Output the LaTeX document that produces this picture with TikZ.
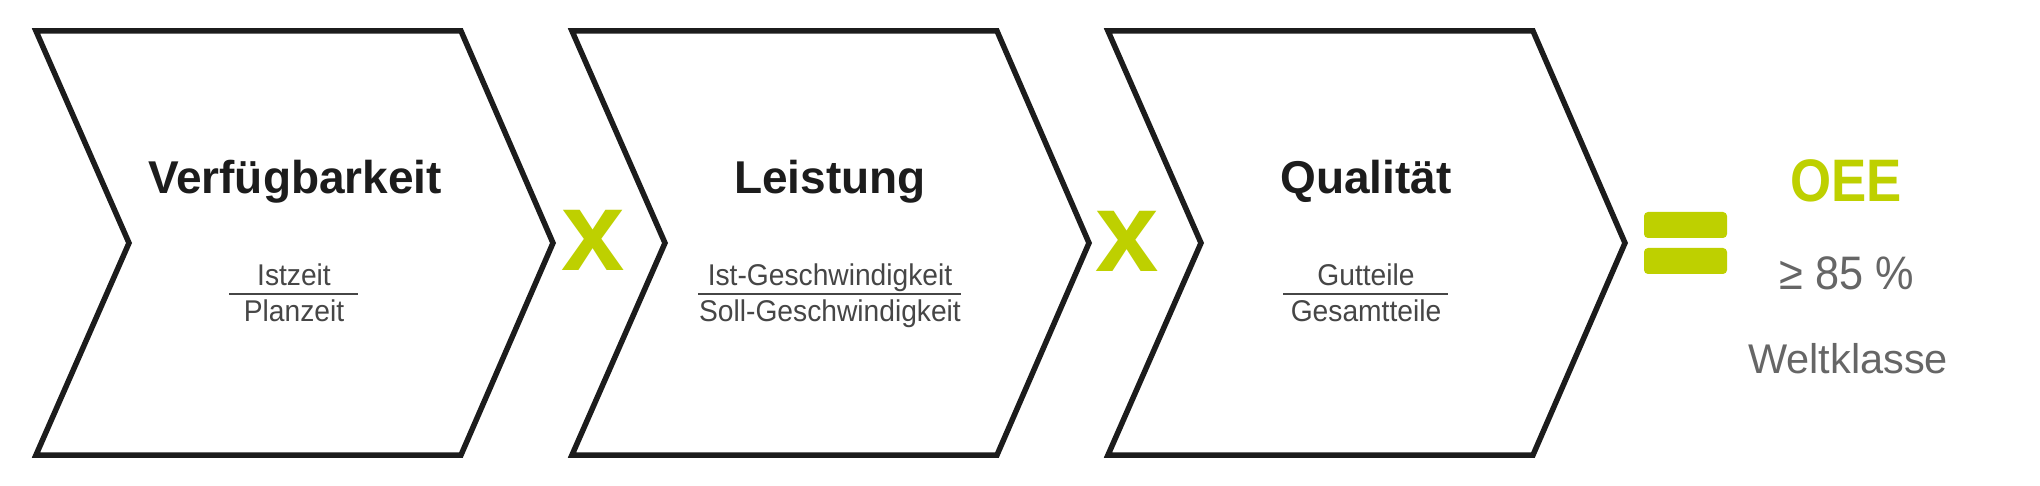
\documentclass[tikz,border=0pt]{standalone}
\usepackage{fontspec}
\setmainfont{Liberation Sans}
\newfontfamily\narrowfont[FakeStretch=0.94]{Liberation Sans}
\newfontfamily\oeefont[FakeStretch=0.88]{Liberation Sans}
\newfontfamily\pctfont[FakeStretch=0.92]{Liberation Sans}
\definecolor{lime}{RGB}{190,208,0}
\definecolor{ink}{RGB}{28,28,28}
\definecolor{subgray}{RGB}{70,70,70}
\definecolor{oeegray}{RGB}{102,102,102}
\tikzset{
  chev/.style={draw=ink, line width=5.5pt, line join=miter, fill=white},
  title/.style={anchor=base, inner sep=0pt, text=ink, font=\fontsize{46}{50}\selectfont\bfseries},
  frac/.style={anchor=base, inner sep=0pt, text=subgray, font=\narrowfont\fontsize{30}{34}\selectfont},
  fracline/.style={draw=subgray, line width=2.6pt},
  times/.style={anchor=base, inner sep=0pt, text=lime, font=\fontsize{114}{120}\selectfont\bfseries},
  eqbar/.style={fill=lime, rounded corners=4pt},
  oee/.style={anchor=base, inner sep=0pt, text=lime, font=\oeefont\fontsize{60}{64}\selectfont\bfseries},
  oeesub/.style={anchor=base, inner sep=0pt, text=oeegray},
}
\begin{document}
\begin{tikzpicture}[x=1pt,y=-1pt]
\useasboundingbox (0,0) rectangle (2040,486);
\fill[white] (0,0) rectangle (2040,486);
% chevrons
\foreach \o in {0,536,1072}{
  \draw[chev] (36+\o,31) -- (461+\o,31) -- (553+\o,243) -- (461+\o,455) -- (36+\o,455) -- (129+\o,243) -- cycle;
}
% titles
\node[title] (t1) at (295,194) {Verfügbarkeit};
\node[title] (t2) at (830,194) {Leistung};
\node[title] (t3) at (1366,194) {Qualität};
% fractions
\node[frac] (n1) at (294,286) {Istzeit};
\node[frac] (d1) at (294,321) {Planzeit};
\draw[fracline] (229,294) -- (358,294);
\node[frac] (n2) at (830,286) {Ist-Geschwindigkeit};
\node[frac] (d2) at (830,321) {Soll-Geschwindigkeit};
\draw[fracline] (698,294) -- (961,294);
\node[frac] (n3) at (1366,286) {Gutteile};
\node[frac] (d3) at (1366,321) {Gesamtteile};
\draw[fracline] (1283,294) -- (1448,294);
% multiplication signs
\node[times] (x1) at (593.5,271) {x};
\node[times] (x2) at (1127.5,272) {x};
% equal sign
\fill[eqbar] (1644,212) rectangle (1727,238);
\fill[eqbar] (1644,248) rectangle (1727,274);
% result
\node[oee] (oee) at (1846,202) {OEE};
\node[oeesub, font=\pctfont\fontsize{47}{50}\selectfont] (pct) at (1847,290) {≥ 85 \%};
\node[oeesub, font=\fontsize{41.5}{45}\selectfont] (wk) at (1848,373) {Weltklasse};
\end{tikzpicture}
\end{document}
